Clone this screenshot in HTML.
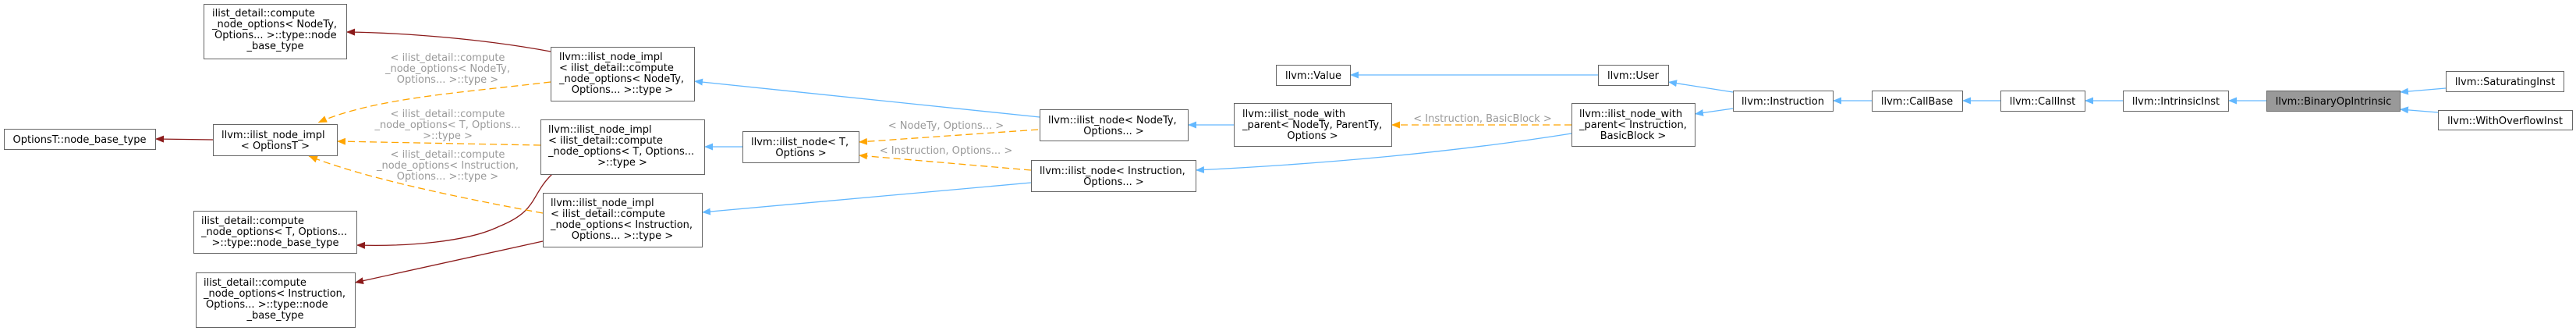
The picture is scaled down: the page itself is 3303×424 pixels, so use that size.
<!DOCTYPE html>
<html><head><meta charset="utf-8"><style>
html,body{margin:0;padding:0;background:#fff;}
svg{display:block;}
text{font-family:"DejaVu Sans","Liberation Sans",sans-serif;font-size:13px;fill:#000;}
.l{fill:#9a9a9a;}
rect{fill:#fff;stroke:#666;stroke-width:1;}
.c{text-anchor:middle;}
</style></head><body>
<svg width="3303" height="424" viewBox="0 0 3303 424" xmlns="http://www.w3.org/2000/svg">
<defs>
<marker id="mb" markerUnits="userSpaceOnUse" markerWidth="12" markerHeight="10" refX="11" refY="4.5" orient="auto"><path d="M0,0 L11,4.5 L0,9 z" fill="#63b8ff"/></marker>
<marker id="mr" markerUnits="userSpaceOnUse" markerWidth="12" markerHeight="10" refX="11" refY="4.5" orient="auto"><path d="M0,0 L11,4.5 L0,9 z" fill="#8b1a1a"/></marker>
<marker id="mo" markerUnits="userSpaceOnUse" markerWidth="12" markerHeight="10" refX="11" refY="4.5" orient="auto"><path d="M0,0 L11,4.5 L0,9 z" fill="#ffa500"/></marker>
</defs>
<g fill="none" stroke-width="1.3">
<path d="M273,179 L199,178" stroke="#8b1a1a" marker-end="url(#mr)"/>
<path d="M706,66 C620,50 520,42 444,41" stroke="#8b1a1a" marker-end="url(#mr)"/>
<path d="M708,223 C680,250 690,270 640,290 C600,310 520,316 457,314" stroke="#8b1a1a" marker-end="url(#mr)"/>
<path d="M696,309 L455,362" stroke="#8b1a1a" marker-end="url(#mr)"/>
<path d="M706,105 C600,118 480,125 408,157" stroke="#ffa500" stroke-dasharray="9,5" marker-end="url(#mo)"/>
<path d="M693,186 L432,181" stroke="#ffa500" stroke-dasharray="9,5" marker-end="url(#mo)"/>
<path d="M696,273 C560,248 460,225 396,200" stroke="#ffa500" stroke-dasharray="9,5" marker-end="url(#mo)"/>
<path d="M1331,166 L1101,182" stroke="#ffa500" stroke-dasharray="9,5" marker-end="url(#mo)"/>
<path d="M1322,218 L1101,199" stroke="#ffa500" stroke-dasharray="9,5" marker-end="url(#mo)"/>
<path d="M2015,160 L1784,160" stroke="#ffa500" stroke-dasharray="9,5" marker-end="url(#mo)"/>
<path d="M1333,150 L890,104" stroke="#63b8ff" marker-end="url(#mb)"/>
<path d="M952,188 L903,188" stroke="#63b8ff" marker-end="url(#mb)"/>
<path d="M1322,234 L900,272" stroke="#63b8ff" marker-end="url(#mb)"/>
<path d="M1582,160 L1523,160" stroke="#63b8ff" marker-end="url(#mb)"/>
<path d="M2015,171 Q1800,205 1533,218" stroke="#63b8ff" marker-end="url(#mb)"/>
<path d="M2049,96 L1731,96" stroke="#63b8ff" marker-end="url(#mb)"/>
<path d="M2222,118 L2139,105" stroke="#63b8ff" marker-end="url(#mb)"/>
<path d="M2222,139 L2173,146" stroke="#63b8ff" marker-end="url(#mb)"/>
<path d="M2400,129 L2350,129" stroke="#63b8ff" marker-end="url(#mb)"/>
<path d="M2565,129 L2516,129" stroke="#63b8ff" marker-end="url(#mb)"/>
<path d="M2722,129 L2673,129" stroke="#63b8ff" marker-end="url(#mb)"/>
<path d="M2906,129 L2857,129" stroke="#63b8ff" marker-end="url(#mb)"/>
<path d="M3136,113 L3077,118" stroke="#63b8ff" marker-end="url(#mb)"/>
<path d="M3126,144 L3077,140" stroke="#63b8ff" marker-end="url(#mb)"/>
</g>
<g text-anchor="middle">
<text class="l" x="574" y="78">&lt; ilist_detail::compute</text>
<text class="l" x="574" y="92">_node_options&lt; NodeTy,</text>
<text class="l" x="574" y="106">Options... &gt;::type &gt;</text>
<text class="l" x="574" y="150">&lt; ilist_detail::compute</text>
<text class="l" x="574" y="164">_node_options&lt; T, Options...</text>
<text class="l" x="574" y="178">&gt;::type &gt;</text>
<text class="l" x="574" y="202">&lt; ilist_detail::compute</text>
<text class="l" x="574" y="216">_node_options&lt; Instruction,</text>
<text class="l" x="574" y="230">Options... &gt;::type &gt;</text>
<text class="l" x="1213" y="165">&lt; NodeTy, Options... &gt;</text>
<text class="l" x="1213" y="197">&lt; Instruction, Options... &gt;</text>
<text class="l" x="1901" y="156">&lt; Instruction, BasicBlock &gt;</text>
</g>
<rect x="261.5" y="5.5" width="183" height="70"/>
<rect x="5.5" y="165.5" width="194" height="26"/>
<rect x="273.5" y="159.5" width="159" height="40"/>
<rect x="248.5" y="270.5" width="209" height="54"/>
<rect x="251.5" y="349.5" width="204" height="70"/>
<rect x="706.5" y="60.5" width="184" height="69"/>
<rect x="693.5" y="153.5" width="210" height="70"/>
<rect x="696.5" y="247.5" width="204" height="69"/>
<rect x="952.5" y="168.5" width="149" height="40"/>
<rect x="1333.5" y="140.5" width="190" height="40"/>
<rect x="1322.5" y="205.5" width="211" height="40"/>
<rect x="1636.5" y="83.5" width="95" height="26"/>
<rect x="1582.5" y="132.5" width="202" height="55"/>
<rect x="2049.5" y="83.5" width="90" height="26"/>
<rect x="2015.5" y="132.5" width="158" height="55"/>
<rect x="2222.5" y="116.5" width="128" height="26"/>
<rect x="2400.5" y="116.5" width="116" height="26"/>
<rect x="2565.5" y="116.5" width="108" height="26"/>
<rect x="2722.5" y="116.5" width="135" height="26"/>
<rect x="2906.5" y="116.5" width="171" height="26" style="fill:#999"/>
<rect x="3136.5" y="91.5" width="151" height="26"/>
<rect x="3126.5" y="141.5" width="172" height="25"/>
<g>
<text x="272" y="21">ilist_detail::compute</text>
<text x="272" y="35">_node_options&lt; NodeTy,</text>
<text x="275" y="49">Options... &gt;::type::node</text>
<text class="c" x="353" y="63">_base_type</text>
<text class="c" x="102" y="183">OptionsT::node_base_type</text>
<text x="284" y="177">llvm::ilist_node_impl</text>
<text class="c" x="353" y="191">&lt; OptionsT &gt;</text>
<text x="258" y="287">ilist_detail::compute</text>
<text x="258" y="301">_node_options&lt; T, Options...</text>
<text class="c" x="353" y="315">&gt;::type::node_base_type</text>
<text x="261" y="366">ilist_detail::compute</text>
<text x="261" y="380">_node_options&lt; Instruction,</text>
<text x="264" y="394">Options... &gt;::type::node</text>
<text class="c" x="353" y="408">_base_type</text>
<text x="717" y="77">llvm::ilist_node_impl</text>
<text x="717" y="91">&lt; ilist_detail::compute</text>
<text x="717" y="105">_node_options&lt; NodeTy,</text>
<text class="c" x="798" y="119">Options... &gt;::type &gt;</text>
<text x="703" y="170">llvm::ilist_node_impl</text>
<text x="703" y="184">&lt; ilist_detail::compute</text>
<text x="703" y="198">_node_options&lt; T, Options...</text>
<text class="c" x="798" y="212">&gt;::type &gt;</text>
<text x="706" y="264">llvm::ilist_node_impl</text>
<text x="706" y="278">&lt; ilist_detail::compute</text>
<text x="706" y="292">_node_options&lt; Instruction,</text>
<text class="c" x="798" y="306">Options... &gt;::type &gt;</text>
<text x="963" y="186">llvm::ilist_node&lt; T,</text>
<text class="c" x="1027" y="200">Options &gt;</text>
<text x="1344" y="158">llvm::ilist_node&lt; NodeTy,</text>
<text class="c" x="1428" y="172">Options... &gt;</text>
<text x="1333" y="223">llvm::ilist_node&lt; Instruction,</text>
<text class="c" x="1428" y="237">Options... &gt;</text>
<text class="c" x="1684" y="101">llvm::Value</text>
<text x="1593" y="150">llvm::ilist_node_with</text>
<text x="1593" y="164">_parent&lt; NodeTy, ParentTy,</text>
<text class="c" x="1683" y="178">Options &gt;</text>
<text class="c" x="2094" y="101">llvm::User</text>
<text x="2025" y="150">llvm::ilist_node_with</text>
<text x="2025" y="164">_parent&lt; Instruction,</text>
<text class="c" x="2094" y="178">BasicBlock &gt;</text>
<text class="c" x="2286" y="134">llvm::Instruction</text>
<text class="c" x="2458" y="134">llvm::CallBase</text>
<text class="c" x="2619" y="134">llvm::CallInst</text>
<text class="c" x="2790" y="134">llvm::IntrinsicInst</text>
<text class="c" x="2992" y="134">llvm::BinaryOpIntrinsic</text>
<text class="c" x="3212" y="109">llvm::SaturatingInst</text>
<text class="c" x="3212" y="159">llvm::WithOverflowInst</text>
</g>
</svg>
</body></html>
